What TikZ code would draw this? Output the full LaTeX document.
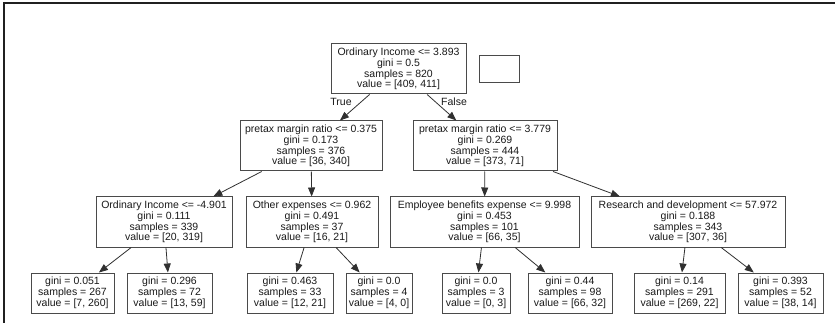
\documentclass[tikz,border=0pt]{standalone}
\usepackage{fontspec}
\setmainfont{Liberation Sans}
\usetikzlibrary{arrows.meta}
\definecolor{boxgray}{HTML}{4A4A4A}
\definecolor{edgegray}{HTML}{303030}
\definecolor{textgray}{HTML}{1A1A1A}
\definecolor{framegray}{HTML}{202020}
\begin{document}
\begin{tikzpicture}[x=1pt,y=-1pt,
  treenode/.style={draw=boxgray, line width=1pt, inner sep=0pt, align=center,
    font=\fontsize{10.5}{10.8}\selectfont, text=textgray},
  split/.style={treenode, minimum height=50pt},
  leaf/.style={treenode, minimum height=40pt},
  branch/.style={draw=edgegray, line width=0.8pt, -{Triangle[length=9pt,width=7pt]}},
  edgelabel/.style={font=\fontsize{10.5}{12}\selectfont, text=textgray, inner sep=0pt}]

  % page area and frame
  \useasboundingbox (0,0) rectangle (835,323);
  \fill[white] (0,0) rectangle (835,323);
  \draw[framegray, line width=2pt] (4,323) -- (4,3) -- (835,3);

  % root and legend box
  \node[split, minimum width=135pt] (root) at (398.5,69)
    {Ordinary Income <= 3.893\\gini = 0.5\\samples = 820\\value = [409, 411]};
  \node[treenode, minimum width=40pt, minimum height=27pt] (legend) at (499,69.5) {};

  % first level
  \node[split, minimum width=142pt] (l) at (311,146)
    {pretax margin ratio <= 0.375\\gini = 0.173\\samples = 376\\value = [36, 340]};
  \node[split, minimum width=144pt] (r) at (485,146)
    {pretax margin ratio <= 3.779\\gini = 0.269\\samples = 444\\value = [373, 71]};

  % second level
  \node[split, minimum width=136pt] (ll) at (164,222)
    {Ordinary Income <= -4.901\\gini = 0.111\\samples = 339\\value = [20, 319]};
  \node[split, minimum width=132pt] (lr) at (312,222)
    {Other expenses <= 0.962\\gini = 0.491\\samples = 37\\value = [16, 21]};
  \node[split, minimum width=189pt] (rl) at (484.5,222)
    {Employee benefits expense <= 9.998\\gini = 0.453\\samples = 101\\value = [66, 35]};
  \node[split, minimum width=194pt] (rr) at (688,222)
    {Research and development <= 57.972\\gini = 0.188\\samples = 343\\value = [307, 36]};

  % leaves
  \node[leaf, minimum width=83pt] (lll) at (72.5,293)
    {gini = 0.051\\samples = 267\\value = [7, 260]};
  \node[leaf, minimum width=85pt] (llr) at (169.5,293)
    {gini = 0.296\\samples = 72\\value = [13, 59]};
  \node[leaf, minimum width=86pt] (lrl) at (290,293)
    {gini = 0.463\\samples = 33\\value = [12, 21]};
  \node[leaf, minimum width=66pt] (lrr) at (379,293)
    {gini = 0.0\\samples = 4\\value = [4, 0]};
  \node[leaf, minimum width=68pt] (rll) at (476,293)
    {gini = 0.0\\samples = 3\\value = [0, 3]};
  \node[leaf, minimum width=84pt] (rlr) at (570,293)
    {gini = 0.44\\samples = 98\\value = [66, 32]};
  \node[leaf, minimum width=91pt] (rrl) at (679.5,293)
    {gini = 0.14\\samples = 291\\value = [269, 22]};
  \node[leaf, minimum width=85pt] (rrr) at (780.5,293)
    {gini = 0.393\\samples = 52\\value = [38, 14]};

  % connectors
  \draw[branch] (root) -- (l);
  \draw[branch] (root) -- (r);
  \draw[branch] (l) -- (ll);
  \draw[branch] (l) -- (lr);
  \draw[branch] (r) -- (rl);
  \draw[branch] (r) -- (rr);
  \draw[branch] (ll) -- (lll);
  \draw[branch] (ll) -- (llr);
  \draw[branch] (lr) -- (lrl);
  \draw[branch] (lr) -- (lrr);
  \draw[branch] (rl) -- (rll);
  \draw[branch] (rl) -- (rlr);
  \draw[branch] (rr) -- (rrl);
  \draw[branch] (rr) -- (rrr);

  % branch labels
  \node[edgelabel] (truelabel) at (341,102) {True};
  \node[edgelabel] (falselabel) at (454,102) {False};
\end{tikzpicture}
\end{document}
